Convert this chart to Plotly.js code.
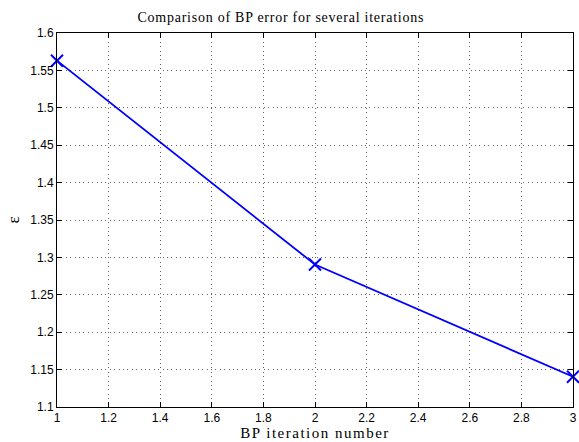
<!DOCTYPE html>
<html><head><meta charset="utf-8">
<script src="https://cdn.plot.ly/plotly-3.0.1.min.js"></script>
<style>html,body{margin:0;padding:0;background:#fff}
.gtitle{letter-spacing:0.75px}
.xtitle{letter-spacing:1.5px}
</style>
</head><body><div id="chart" style="width:579px;height:442px"></div>
<script>
const iterations = [1, 2, 3];
const bpError = [1.563, 1.2905, 1.1405];
const xTicks = [1, 1.2, 1.4, 1.6, 1.8, 2, 2.2, 2.4, 2.6, 2.8, 3];
const yTicks = [1.1, 1.15, 1.2, 1.25, 1.3, 1.35, 1.4, 1.45, 1.5, 1.55, 1.6];

const trace = {
  x: iterations, y: bpError, type: 'scatter', mode: 'lines+markers',
  line: {color: 'rgb(0,0,255)', width: 1.8},
  marker: {symbol: 'x-thin', size: 12, line: {color: 'rgb(0,0,255)', width: 2}, color: 'rgb(0,0,255)'},
  cliponaxis: false, showlegend: false
};
const axisCommon = {
  showline: true, linecolor: '#000', linewidth: 1, mirror: 'ticks',
  ticks: 'inside', ticklen: 5, tickcolor: '#000',
  showgrid: true, gridcolor: '#666', griddash: '1px,3.4px', gridwidth: 1,
  zeroline: false,
  tickfont: {family: 'Liberation Sans, Arial, sans-serif', size: 12, color: '#000'}
};
const layout = {
  width: 579, height: 442,
  margin: {l: 57, r: 6, t: 33, b: 35},
  paper_bgcolor: '#fff', plot_bgcolor: '#fff',
  title: {text: 'Comparison of BP error for several iterations', x: 0.485, xanchor: 'center', y: 0.962, yanchor: 'middle',
    font: {family: 'Liberation Serif, DejaVu Serif, serif', size: 14, color: '#000'}},
  xaxis: Object.assign({}, axisCommon, {range: [1, 3], tickvals: xTicks, ticktext: xTicks.map(String),
    title: {text: 'BP iteration number', standoff: 3, font: {family: 'Liberation Serif, DejaVu Serif, serif', size: 15, color: '#000'}}}),
  yaxis: Object.assign({}, axisCommon, {range: [1.1, 1.6], tickvals: yTicks, ticktext: yTicks.map(String),
    title: {text: 'ε', standoff: 6, font: {family: 'Liberation Serif, DejaVu Serif, serif', size: 17, color: '#000'}}})
};
Plotly.newPlot('chart', [trace], layout, {displayModeBar: false, staticPlot: true});
</script></body></html>
